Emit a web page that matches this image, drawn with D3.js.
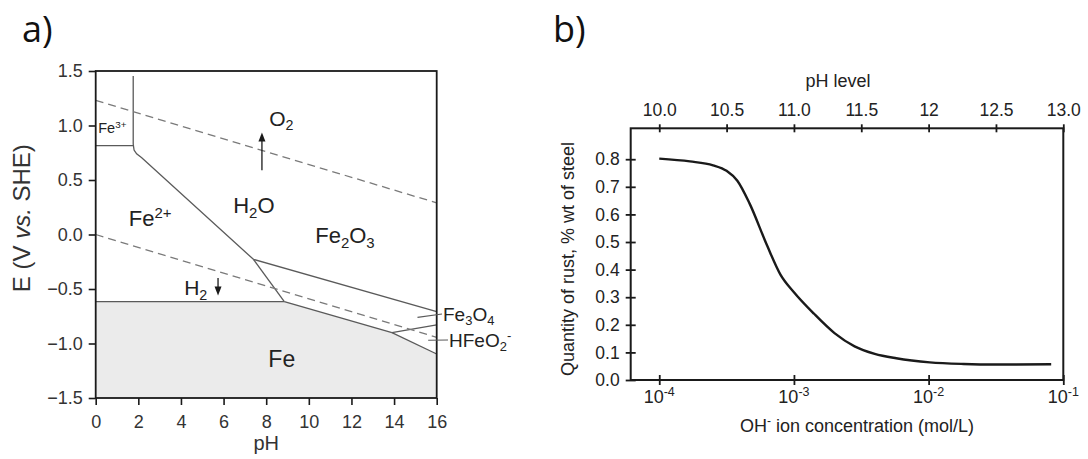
<!DOCTYPE html>
<html>
<head>
<meta charset="utf-8">
<script src="https://cdn.jsdelivr.net/npm/d3@7"></script>
<style>
  body { margin: 0; background: #fff; }
  svg { display: block; font-family: "Liberation Sans", Arial, sans-serif; }
</style>
</head>
<body>
<svg id="chart" width="1088" height="459"></svg>
<script>
// ---------- Panel a: Pourbaix diagram of iron (E vs pH) ----------
const phTicks = [0, 2, 4, 6, 8, 10, 12, 14, 16];
const eTicks = [-1.5, -1.0, -0.5, 0.0, 0.5, 1.0, 1.5];

// Phase boundaries as [pH, E] pairs
const fe3Fe2Boundary = [[0, 0.815], [1.76, 0.815]];
const fe2Fe2o3Boundary = [[1.76, 1.454], [1.76, 0.83], [1.80, 0.775], [1.92, 0.74], [2.16, 0.705], [7.40, -0.228]];
const fe2Fe3o4Boundary = [[7.40, -0.228], [8.85, -0.615]];
const feFe2Boundary = [[0, -0.615], [8.85, -0.615]];
const fe2o3Fe3o4Boundary = [[7.40, -0.228], [16, -0.708]];
const feFe3o4Boundary = [[8.85, -0.615], [13.9, -0.90]];
const feHfeo2Boundary = [[13.9, -0.90], [16, -1.096]];
const fe3o4Hfeo2Boundary = [[13.9, -0.90], [16, -0.83]];
const feRegion = [[0, -1.5], [0, -0.615], [8.85, -0.615], [13.9, -0.90], [16, -1.096], [16, -1.5]];

// Water stability lines
const oxygenLine = [[0, 1.23], [16, 0.29]];
const hydrogenLine = [[0, 0.0], [16, -0.944]];

// ---------- Panel b: rust vs OH- concentration ----------
const ohConcentration = [1.0e-4, 1.69e-4, 2.51e-4, 3.16e-4, 3.80e-4, 4.68e-4, 6.31e-4, 7.94e-4,
  1.0e-3, 1.41e-3, 2.0e-3, 2.82e-3, 3.98e-3, 5.75e-3, 1.02e-2, 1.82e-2, 3.16e-2, 8.13e-2];
const rustQuantity = [0.802, 0.792, 0.778, 0.758, 0.722, 0.640, 0.488, 0.382,
  0.318, 0.240, 0.170, 0.122, 0.095, 0.079, 0.064, 0.058, 0.056, 0.057];
const rustTicks = [0.0, 0.1, 0.2, 0.3, 0.4, 0.5, 0.6, 0.7, 0.8];
const concTicks = [1e-4, 1e-3, 1e-2, 1e-1];
const concTickExponents = ["-4", "-3", "-2", "-1"];
const phLevelTicks = [10.0, 10.5, 11.0, 11.5, 12, 12.5, 13.0];
const phLevelLabels = ["10.0", "10.5", "11.0", "11.5", "12", "12.5", "13.0"];

const svg = d3.select("#chart");
const ink = "#1a1a1a";
const lineGray = "#5a5a5a";

// Rich text helper: parts of {t, sub, sup}; baseline shifts are undone on the next part
function rich(sel, parts, size) {
  let offset = 0;
  parts.forEach(p => {
    const shift = p.sub ? size * 0.22 : p.sup ? -size * 0.38 : 0;
    sel.append("tspan")
      .attr("font-size", p.sub || p.sup ? size * 0.68 : size)
      .attr("dy", shift - offset)
      .text(p.t);
    offset = shift;
  });
  return sel;
}

// ===== Panel a =====
const xL = d3.scaleLinear().domain([0, 16]).range([95.7, 436.7]);
const yL = d3.scaleLinear().domain([-1.5, 1.5]).range([398, 71]);
const lineL = d3.line().x(d => xL(d[0])).y(d => yL(d[1]));

const gA = svg.append("g");

gA.append("path").datum(feRegion).attr("d", lineL).attr("fill", "#ebebeb").attr("stroke", "none");

[fe3Fe2Boundary, fe2Fe2o3Boundary, fe2Fe3o4Boundary, feFe2Boundary, fe2o3Fe3o4Boundary,
 feFe3o4Boundary, feHfeo2Boundary, fe3o4Hfeo2Boundary].forEach(b => {
  gA.append("path").datum(b).attr("d", lineL).attr("fill", "none")
    .attr("stroke", lineGray).attr("stroke-width", 1.3);
});

[oxygenLine, hydrogenLine].forEach(b => {
  gA.append("path").datum(b).attr("d", lineL).attr("fill", "none")
    .attr("stroke", "#7a7a7a").attr("stroke-width", 1.3).attr("stroke-dasharray", "8,5");
});

// Frame
gA.append("rect").attr("x", xL(0)).attr("y", yL(1.5))
  .attr("width", xL(16) - xL(0)).attr("height", yL(-1.5) - yL(1.5))
  .attr("fill", "none").attr("stroke", ink).attr("stroke-width", 1.8);

const axB = gA.append("g").attr("transform", `translate(0,${yL(-1.5)})`)
  .call(d3.axisBottom(xL).tickValues(phTicks).tickFormat(d3.format("d")).tickSizeOuter(0).tickSize(7).tickPadding(10));
const axL = gA.append("g").attr("transform", `translate(${xL(0)},0)`)
  .call(d3.axisLeft(yL).tickValues(eTicks).tickFormat(d3.format(".1f")).tickSizeOuter(0).tickSize(7).tickPadding(6));
[axB, axL].forEach(a => {
  a.select(".domain").remove();
  a.selectAll(".tick line").attr("stroke", ink).attr("stroke-width", 1.6);
  a.selectAll(".tick text").attr("font-size", 18).attr("fill", "#333").attr("font-family", "Liberation Sans, Arial, sans-serif");
});

// Axis titles
gA.append("text").attr("x", xL(8)).attr("y", 450).attr("text-anchor", "middle")
  .attr("font-size", 20).attr("fill", "#333").text("pH");
const eTitle = gA.append("text").attr("transform", `translate(30,${yL(0.15)}) rotate(-90)`)
  .attr("text-anchor", "middle").attr("fill", "#333").attr("font-size", 24);
eTitle.append("tspan").text("E (V ");
eTitle.append("tspan").attr("font-style", "italic").text("vs.");
eTitle.append("tspan").text(" SHE)");

// Arrows
const arrowHead = (g, x, y, dir) => {
  g.append("path").attr("d", `M${x},${y} L${x - 3.5},${y + 9 * dir} L${x + 3.5},${y + 9 * dir} Z`).attr("fill", ink);
};
gA.append("line").attr("x1", xL(7.8)).attr("x2", xL(7.8)).attr("y1", yL(0.59)).attr("y2", yL(0.90))
  .attr("stroke", ink).attr("stroke-width", 1.3);
arrowHead(gA, xL(7.8), yL(0.935), 1);
gA.append("line").attr("x1", xL(5.74)).attr("x2", xL(5.74)).attr("y1", yL(-0.40)).attr("y2", yL(-0.52))
  .attr("stroke", ink).attr("stroke-width", 1.3);
arrowHead(gA, xL(5.74), yL(-0.56), -1);

// Region labels
const lab = (x, y, parts, size) => rich(gA.append("text").attr("x", x).attr("y", y).attr("fill", "#222"), parts, size);
lab(xL(0.12), yL(0.93), [{t: "Fe"}, {t: "3+", sup: true}], 14.5);
lab(xL(1.55), yL(0.075), [{t: "Fe"}, {t: "2+", sup: true}], 22);
lab(xL(6.45), yL(0.195), [{t: "H"}, {t: "2", sub: true}, {t: "O"}], 22);
lab(xL(10.3), yL(-0.075), [{t: "Fe"}, {t: "2", sub: true}, {t: "O"}, {t: "3", sub: true}], 22);
lab(xL(8.1), yL(-1.215), [{t: "Fe"}], 23);
lab(xL(4.15), yL(-0.555), [{t: "H"}, {t: "2", sub: true}], 21);
lab(xL(7.95) + 4, yL(1.0), [{t: "O"}, {t: "2", sub: true}], 21);

// Leader labels on the right edge
gA.append("line").attr("x1", xL(15.1)).attr("y1", yL(-0.76)).attr("x2", 442).attr("y2", 314)
  .attr("stroke", lineGray).attr("stroke-width", 1.2);
gA.append("line").attr("x1", xL(15.6)).attr("y1", yL(-0.97)).attr("x2", 448).attr("y2", 340)
  .attr("stroke", lineGray).attr("stroke-width", 1.2);
rich(gA.append("text").attr("x", 443).attr("y", 321).attr("fill", "#222"),
  [{t: "Fe"}, {t: "3", sub: true}, {t: "O"}, {t: "4", sub: true}], 19);
rich(gA.append("text").attr("x", 449).attr("y", 347).attr("fill", "#222"),
  [{t: "HFeO"}, {t: "2", sub: true}, {t: "-", sup: true}], 19);

// Panel letters
svg.append("text").attr("x", 22).attr("y", 42).attr("font-family", "Open Sans, sans-serif")
  .attr("font-size", 36).attr("fill", "#111").text("a)");
svg.append("text").attr("x", 553).attr("y", 42).attr("font-family", "Open Sans, sans-serif")
  .attr("font-size", 36).attr("fill", "#111").text("b)");

// ===== Panel b =====
const xR = d3.scaleLog().domain([Math.pow(10, -4.212), 0.1]).range([630.7, 1063.3]);
const xPh = d3.scaleLinear().domain([9.788, 13]).range([630.7, 1063.3]);
const yR = d3.scaleLinear().domain([0, 0.912]).range([380, 128.3]);

const gB = svg.append("g");
const rustData = ohConcentration.map((c, i) => [c, rustQuantity[i]]);
gB.append("path").datum(rustData)
  .attr("d", d3.line().x(d => xR(d[0])).y(d => yR(d[1])).curve(d3.curveMonotoneX))
  .attr("fill", "none").attr("stroke", ink).attr("stroke-width", 2.4);

gB.append("rect").attr("x", 630.7).attr("y", 128.3).attr("width", 1063.3 - 630.7).attr("height", 380 - 128.3)
  .attr("fill", "none").attr("stroke", ink).attr("stroke-width", 2);

const axRy = gB.append("g").attr("transform", "translate(630.7,0)")
  .call(d3.axisLeft(yR).tickValues(rustTicks).tickFormat(d3.format(".1f")).tickSizeOuter(0).tickSize(5).tickPadding(6));
axRy.selectAll(".tick line").attr("x1", 5);
const axRx = gB.append("g").attr("transform", "translate(0,380)")
  .call(d3.axisBottom(xR).tickValues(concTicks).tickFormat(() => "").tickSizeOuter(0).tickSize(5));
axRx.selectAll(".tick line").attr("y1", -5);
axRx.selectAll(".tick text").remove();
const axRt = gB.append("g").attr("transform", "translate(0,128.3)")
  .call(d3.axisTop(xPh).tickValues(phLevelTicks).tickFormat((d, i) => phLevelLabels[i]).tickSizeOuter(0).tickSize(4).tickPadding(8));
axRt.selectAll(".tick line").attr("y1", 4);
[axRy, axRx, axRt].forEach(a => {
  a.select(".domain").remove();
  a.selectAll(".tick line").attr("stroke", ink).attr("stroke-width", 1.8);
  a.selectAll(".tick text").attr("font-size", 17.5).attr("fill", "#222").attr("font-family", "Liberation Sans, Arial, sans-serif");
});

// Power-of-ten labels
concTicks.forEach((c, i) => {
  const t = gB.append("text").attr("x", xR(c)).attr("y", 403).attr("text-anchor", "middle").attr("fill", "#222");
  t.append("tspan").attr("font-size", 18).text("10");
  t.append("tspan").attr("font-size", 12.5).attr("dy", -7).text(concTickExponents[i]);
});

// Titles
const xTitle = gB.append("text").attr("x", 857).attr("y", 432).attr("text-anchor", "middle").attr("fill", "#222").attr("font-size", 18);
xTitle.append("tspan").text("OH");
xTitle.append("tspan").attr("font-size", 12).attr("dy", -7).text("-");
xTitle.append("tspan").attr("dy", 7).text(" ion concentration (mol/L)");
gB.append("text").attr("x", 838).attr("y", 87).attr("text-anchor", "middle").attr("fill", "#222")
  .attr("font-size", 18).text("pH level");
gB.append("text").attr("transform", "translate(574,259) rotate(-90)").attr("text-anchor", "middle")
  .attr("fill", "#222").attr("font-size", 18).text("Quantity of rust, % wt of steel");
</script>
</body>
</html>
